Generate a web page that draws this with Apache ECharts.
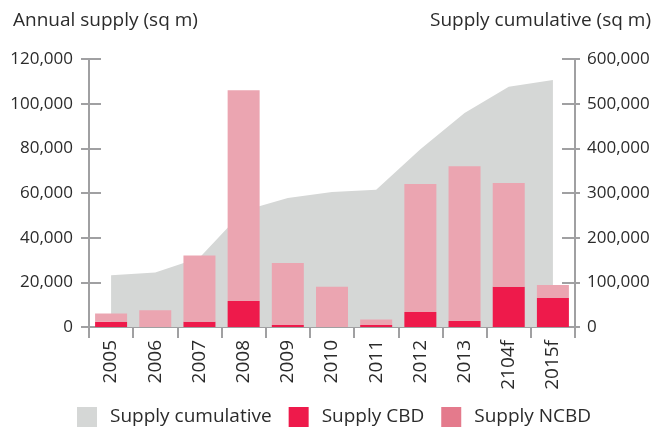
<!DOCTYPE html>
<html lang="en">
  <head>
    <meta charset="UTF-8" />
    <title>Supply</title>
    <script src="https://cdn.jsdelivr.net/npm/echarts@6/dist/echarts.min.js"></script>
    <style>
      html, body { margin: 0; padding: 0; background: #fff; }
      #main { width: 656px; height: 430px; }
    </style>
  </head>
  <body>
    <div id="main"></div>
    <script>
      var years = ["2005", "2006", "2007", "2008", "2009", "2010", "2011", "2012", "2013", "2104f", "2015f"];
      var cumulative = [116000, 122000, 155000, 260000, 289000, 302000, 307000, 398000, 479000, 538000, 553000];
      var cbd = [2400, 0, 2400, 11600, 900, 0, 900, 6700, 2700, 18000, 13000];
      var ncbd = [3700, 7500, 29600, 94400, 27800, 18000, 2500, 57300, 69300, 46500, 5800];

      var font = "Open Sans";
      var axisGrey = "#a0a0a2";
      var textCol = "#2b2b2b";

      var chartDom = document.getElementById("main");
      var myChart = echarts.init(chartDom);

      function yAx(pos, max, interval, opts) {
        var base = {
          type: "value",
          position: pos,
          min: 0,
          max: max,
          interval: interval,
          splitLine: { show: false },
          axisLine: { show: true, lineStyle: { color: axisGrey, width: 2 } },
          axisTick: { show: true, lineStyle: { color: axisGrey, width: 2 } },
          axisLabel: { show: false }
        };
        return Object.assign(base, opts);
      }

      var option = {
        animation: false,
        textStyle: { fontFamily: font },
        grid: { left: 89, right: 81, top: 59, bottom: 103 },
        graphic: [
          { type: "text", left: 13, top: 11, style: { text: "Annual supply (sq m)", font: "19px '" + font + "'", fill: textCol } },
          { type: "text", right: 5, top: 11, style: { text: "Supply cumulative (sq m)", font: "19px '" + font + "'", fill: textCol } }
        ],
        legend: {
          bottom: 3,
          left: 77,
          padding: 0,
          itemWidth: 20,
          itemHeight: 20,
          itemGap: 17,
          textStyle: { fontSize: 19, color: textCol, fontFamily: font, padding: [0, 0, 0, 8] },
          data: [
            { name: "Supply cumulative", icon: "rect" },
            { name: "Supply CBD", icon: "rect" },
            { name: "Supply NCBD", icon: "rect", itemStyle: { color: "#e47a8c" } }
          ]
        },
        xAxis: [
          {
            type: "category",
            data: years,
            boundaryGap: true,
            axisLine: { show: true, lineStyle: { color: axisGrey, width: 2 } },
            axisTick: { show: true, length: 11, lineStyle: { color: axisGrey, width: 2 } },
            axisLabel: { rotate: 90, fontSize: 19, color: textCol, margin: 13, fontFamily: font }
          },
          {
            type: "category",
            data: years,
            position: "bottom",
            boundaryGap: true,
            axisLine: { show: false },
            axisTick: { show: true, inside: true, length: 14, lineStyle: { color: axisGrey, width: 2 } },
            axisLabel: { show: false }
          }
        ],
        yAxis: [
          yAx("left", 120000, 20000, {
            axisTick: { show: true, length: 8, lineStyle: { color: axisGrey, width: 2 } },
            axisLabel: {
              show: true, fontSize: 17, color: textCol, margin: 16, fontFamily: font,
              formatter: function (v) { return v.toLocaleString("en-US"); }
            }
          }),
          yAx("right", 600000, 100000, {
            axisTick: { show: true, length: 5, lineStyle: { color: axisGrey, width: 2 } },
            axisLabel: {
              show: true, fontSize: 17, color: textCol, margin: 12, fontFamily: font,
              formatter: function (v) { return v.toLocaleString("en-US"); }
            }
          }),
          yAx("left", 120000, 20000, {
            axisLine: { show: false },
            axisTick: { show: true, inside: true, length: 12, lineStyle: { color: axisGrey, width: 2 } }
          }),
          yAx("right", 600000, 100000, {
            axisLine: { show: false },
            axisTick: { show: true, inside: true, length: 13, lineStyle: { color: axisGrey, width: 2 } }
          })
        ],
        series: [
          {
            name: "Supply cumulative",
            type: "line",
            yAxisIndex: 1,
            data: cumulative,
            symbol: "none",
            lineStyle: { width: 0 },
            itemStyle: { color: "#d5d7d6" },
            areaStyle: { color: "#d5d7d6", opacity: 1 },
            z: 1
          },
          {
            name: "Supply CBD",
            type: "bar",
            stack: "supply",
            yAxisIndex: 0,
            barWidth: 32,
            data: cbd,
            itemStyle: { color: "#ee1a4b" },
            z: 3
          },
          {
            name: "Supply NCBD",
            type: "bar",
            stack: "supply",
            yAxisIndex: 0,
            barWidth: 32,
            data: ncbd,
            itemStyle: { color: "#eba5b1" },
            z: 3
          }
        ]
      };
      option && myChart.setOption(option);
    </script>
  </body>
</html>
